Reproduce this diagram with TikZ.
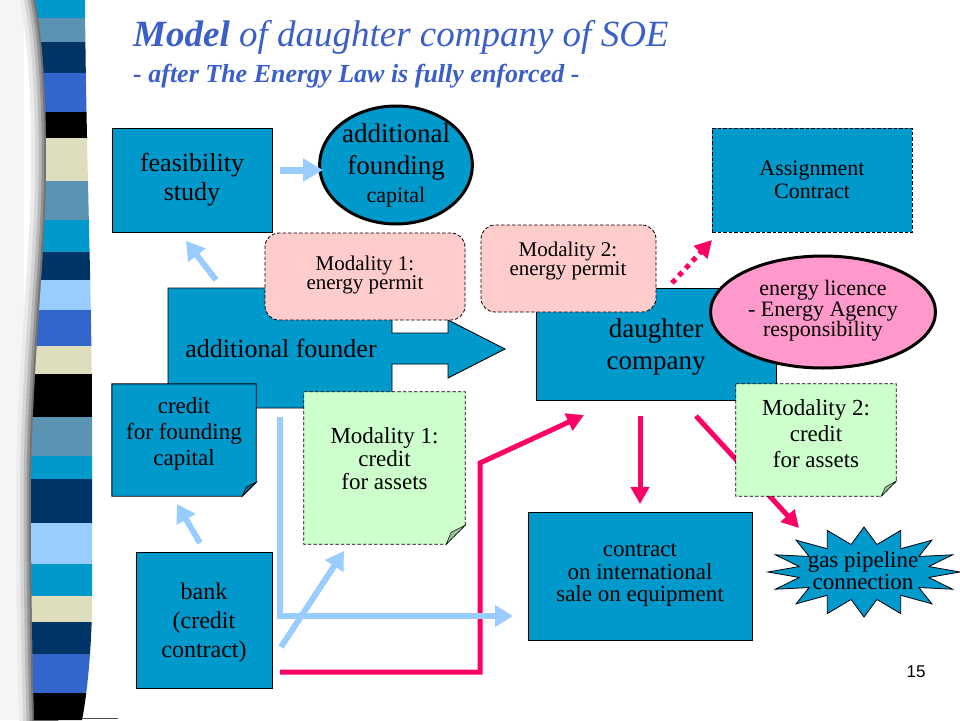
\documentclass[tikz,border=0pt]{standalone}
\usepackage{fontspec}
\setmainfont{Liberation Serif}
\newfontfamily\pagesans{Liberation Sans}
\usetikzlibrary{arrows.meta,shapes.geometric,calc}
\definecolor{boxblue}{RGB}{0,153,204}
\definecolor{foldblue}{RGB}{0,105,145}
\definecolor{pinkbox}{RGB}{255,204,204}
\definecolor{licpink}{RGB}{255,153,204}
\definecolor{notegreen}{RGB}{204,255,204}
\definecolor{foldgreen}{RGB}{150,195,150}
\definecolor{arrblue}{RGB}{153,204,255}
\definecolor{arrpink}{RGB}{255,0,102}
\definecolor{titleblue}{RGB}{58,95,200}
\definecolor{scyan}{RGB}{0,153,204}
\definecolor{ssteel}{RGB}{90,148,178}
\definecolor{snavy}{RGB}{0,51,102}
\definecolor{sroyal}{RGB}{51,102,204}
\definecolor{sblack}{RGB}{0,0,0}
\definecolor{sbeige}{RGB}{222,222,190}
\definecolor{slight}{RGB}{153,204,255}
\newcommand\myfs[2]{\fontsize{#1}{#2}\selectfont}
\newcommand\barpath{(35,0) .. controls (44,40) and (47,120) .. (46,180)
  .. controls (45,260) and (31,380) .. (31,500)
  .. controls (31,600) and (33,680) .. (34,720) -- (82,720)
  .. controls (88,690) and (92,640) .. (92,600) -- (92,420)
  .. controls (92,300) and (86,150) .. (85,0) -- cycle}
\begin{document}
\begin{tikzpicture}[x=1pt,y=-1pt,
  blk/.style={draw=black, line width=0.9pt, fill=boxblue, inner sep=0pt, align=center, text=black},
  dashblk/.style={blk, dash pattern=on 3.5pt off 2pt},
  perm/.style={draw=black, line width=0.8pt, dash pattern=on 3.5pt off 2pt, fill=pinkbox, rounded corners=14pt, inner sep=0pt},
  ell/.style={ellipse, draw=black, line width=3pt, inner sep=0pt, align=center, text=black},
  solidnote/.style={draw=black, line width=0.9pt, line join=miter},
  dashnote/.style={draw=black, line width=0.8pt, dash pattern=on 3.5pt off 2pt, line join=miter},
  txt/.style={align=center, inner sep=0pt, text=black},
  ghost/.style={inner sep=0pt, draw=none},
  barr/.style={draw=arrblue, line width=6pt, -{Triangle[length=18pt,width=21pt]}},
  parr/.style={draw=arrpink, line width=5pt, line join=miter, -{Triangle[length=17pt,width=18pt]}},
]
\useasboundingbox (0,0) rectangle (960,720);
\fill[white] (0,0) rectangle (960,720);
\fill[black!4] (0,0) rectangle (24,720);

% soft shadow left of the striped bar
\begin{scope}
\clip (0,0) rectangle (58,720);
\draw[black!8, line width=30pt] \barpath;
\draw[black!16, line width=22pt] \barpath;
\draw[black!28, line width=15pt] \barpath;
\draw[black!42, line width=9pt] \barpath;
\draw[black!55, line width=4pt] \barpath;
\end{scope}
% striped bar
\begin{scope}
\clip \barpath;
\foreach \ya/\yb/\cc in {0/18/scyan, 18/42/ssteel, 42/73/snavy, 73/112/sroyal,
  112/138/sblack, 138/181/sbeige, 181/220/ssteel, 220/252/scyan, 252/280/snavy,
  280/310/slight, 310/346/sroyal, 346/374/sbeige, 374/417/sblack, 417/456/ssteel,
  456/479/scyan, 479/523/snavy, 523/564/slight, 564/596/scyan, 596/622/sbeige,
  622/654/snavy, 654/693/sroyal, 693/721/sblack}
  \fill[\cc] (20,\ya) rectangle (100,\yb);
\end{scope}
\draw[black!70, line width=0.8pt] (82,718.5) -- (118,718.5);

% title
\node[anchor=base west, inner sep=0pt, text=titleblue, font={\myfs{37}{40}\itshape}] (title) at (133,46)
  {\textbf{Model} of daughter company of SOE};
\node[anchor=base west, inner sep=0pt, text=titleblue, font={\myfs{26}{30}\itshape\bfseries}] (subtitle) at (133,82)
  {- after The Energy Law is fully enforced -};

% top row
\node[blk, minimum width=160pt, minimum height=104pt, font={\myfs{26}{29}}] (feas) at (192,180) {feasibility\\study};
\node[ell, fill=boxblue, minimum width=136pt, minimum height=114pt, font={\myfs{27}{32}}] (cap) at (396,165)
  {additional\\founding\\[-4pt]{\myfs{22}{24}capital}};
\coordinate (a1s) at (280,170);
\coordinate (a1e) at (323,170);
\draw[draw=arrblue, line width=7pt, -{Triangle[length=20pt,width=22pt]}] (a1s) -- (a1e);
\node[dashblk, minimum width=200pt, minimum height=104pt, font={\myfs{22}{23}}] (assign) at (812,180) {Assignment\\Contract};

% additional founder block arrow
\draw[fill=boxblue, draw=black, line width=0.9pt, line join=miter]
  (168,288) -- (392,288) -- (392,333) -- (448,333) -- (448,320) -- (505,349)
  -- (448,378) -- (448,364) -- (392,364) -- (392,408) -- (168,408) -- cycle;
\node[txt, font={\myfs{26}{30}}] (founder) at (281,348) {additional founder};

% modality 1: energy permit
\node[perm, minimum width=200pt, minimum height=87pt] (perm1) at (365,276.5) {};
\node[txt, font={\myfs{21}{17}}] (perm1t) at (365,275) {Modality 1:\\energy permit};

% daughter company
\node[blk, minimum width=240pt, minimum height=112pt] (daughter) at (656.5,344) {};
\node[txt, font={\myfs{27}{32}}] (daughtert) at (656,347) {daughter\\company};

% modality 2: energy permit
\node[perm, minimum width=175pt, minimum height=87pt] (perm2) at (568.5,268.5) {};
\node[txt, font={\myfs{21}{19}}] (perm2t) at (568,261) {Modality 2:\\energy permit};

% energy licence
\node[ell, fill=licpink, minimum width=225pt, minimum height=112pt] (lic) at (823,312) {};
\node[txt, font={\myfs{22}{20.5}}] (lict) at (823,311) {energy licence\\- Energy Agency\\responsibility};

% dotted arrow to assignment contract
\coordinate (dots) at (672,283);
\coordinate (dote) at (712,240);
\draw[draw=arrpink, line width=5pt, dash pattern=on 5pt off 5pt, -{Triangle[length=17pt,width=18pt]}] (dots) -- (dote);

% arrow to feasibility study
\coordinate (a2s) at (216,280);
\coordinate (a2e) at (186,241);
\draw[barr] (a2s) -- (a2e);

% pink arrow daughter -> gas (behind note)
\coordinate (a3s) at (696,416);
\coordinate (a3e) at (799,528);
\draw[parr] (a3s) -- (a3e);

% modality 2: credit for assets (note)
\node[ghost, minimum width=160pt, minimum height=112pt] (mod2c) at (816,440) {};
\draw[dashnote, fill=notegreen] (mod2c.north west) -- (mod2c.north east) -- ($(mod2c.south east)+(0,-15)$)
  -- ($(mod2c.south east)+(-15,0)$) -- (mod2c.south west) -- cycle;
\draw[fill=foldgreen, draw=black, line width=0.5pt] ($(mod2c.south east)+(0,-15)$) -- ($(mod2c.south east)+(-15,0)$) -- ($(mod2c.south east)+(-11,-9)$) -- cycle;
\node[txt, font={\myfs{23}{26}}] (mod2ct) at (816,434) {Modality 2:\\credit\\for assets};

% credit for founding capital (note)
\node[ghost, minimum width=144pt, minimum height=112pt] (credit) at (184,440) {};
\draw[solidnote, fill=boxblue] (credit.north west) -- (credit.north east) -- ($(credit.south east)+(0,-14)$)
  -- ($(credit.south east)+(-14,0)$) -- (credit.south west) -- cycle;
\draw[fill=foldblue, draw=black, line width=0.6pt] ($(credit.south east)+(0,-14)$) -- ($(credit.south east)+(-14,0)$) -- ($(credit.south east)+(-10,-9)$) -- cycle;
\node[txt, font={\myfs{23}{26}}] (creditt) at (184,434) {credit\\for founding\\capital};

% modality 1: credit for assets (note)
\node[ghost, minimum width=161pt, minimum height=152pt] (mod1c) at (384.5,468) {};
\draw[dashnote, fill=notegreen] (mod1c.north west) -- (mod1c.north east) -- ($(mod1c.south east)+(0,-19)$)
  -- ($(mod1c.south east)+(-19,0)$) -- (mod1c.south west) -- cycle;
\draw[fill=foldgreen, draw=black, line width=0.5pt] ($(mod1c.south east)+(0,-19)$) -- ($(mod1c.south east)+(-19,0)$) -- ($(mod1c.south east)+(-14,-12)$) -- cycle;
\node[txt, font={\myfs{23}{23}}] (mod1ct) at (384.5,459) {Modality 1:\\credit\\for assets};

% lower boxes
\node[blk, minimum width=224pt, minimum height=128pt] (contract) at (640,576) {};
\node[txt, font={\myfs{23}{22.5}}] (contractt) at (640,575) {contract\\on international\\sale on equipment};
\node[blk, minimum width=136pt, minimum height=136pt] (bank) at (204,620) {};
\node[txt, font={\myfs{24}{29}}] (bankt) at (204,623) {bank\\(credit\\contract)};

% gas pipeline starburst
\draw[fill=boxblue, draw=black, line width=0.8pt]
  plot[samples at={0,...,31}, variable=\k]
  ({864+cos(90+\k*11.25)*ifthenelse(mod(\k,2)==0,96,66)}, {572-sin(90+\k*11.25)*ifthenelse(mod(\k,2)==0,45,28)}) -- cycle;
\node[txt, font={\myfs{23}{22}}] (gas) at (863,571) {gas pipeline\\connection};

% pink L arrow bank -> daughter
\coordinate (p1s) at (280,672);
\coordinate (p1a) at (480,672);
\coordinate (p1b) at (480,463);
\coordinate (p1e) at (584,415);
\draw[parr] (p1s) -- (p1a) -- (p1b) -- (p1e);

% pink arrow daughter -> contract
\coordinate (p2s) at (640,416);
\coordinate (p2e) at (640,504);
\draw[parr] (p2s) -- (p2e);

% light blue L arrow founder -> contract
\coordinate (b1s) at (280,417);
\coordinate (b1a) at (280,616);
\coordinate (b1e) at (513,616);
\draw[barr, line join=miter] (b1s) -- (b1a) -- (b1e);

% light blue arrow bank -> modality 1 credit
\coordinate (b2s) at (281,647);
\coordinate (b2e) at (344,551);
\draw[barr] (b2s) -- (b2e);

% light blue arrow bank -> credit for founding capital
\coordinate (b3s) at (200,543);
\coordinate (b3e) at (177,504);
\draw[barr] (b3s) -- (b3e);

% page number
\node[txt, font={\pagesans\myfs{17}{20}}] (pagenum) at (916,672) {15};
\end{tikzpicture}
\end{document}
